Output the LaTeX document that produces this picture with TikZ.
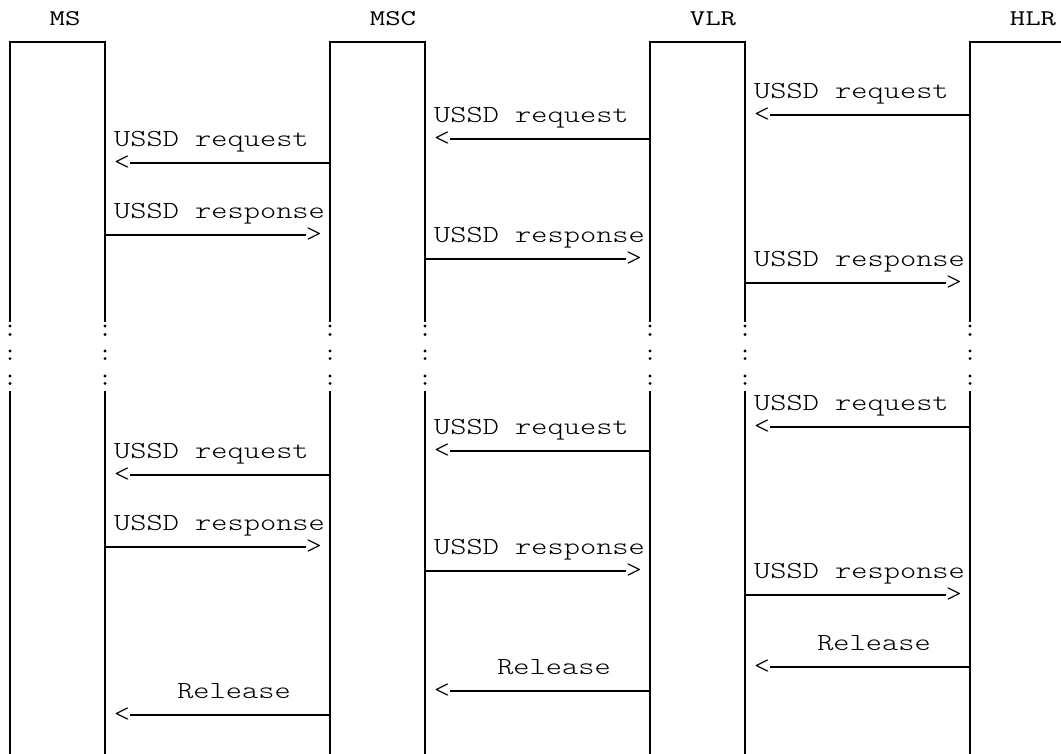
\documentclass[tikz,border=0pt]{standalone}
\usepackage{fontspec}
\newfontfamily\mono[FakeStretch=1.26]{lmmonolt10-regular.otf}
\newfontfamily\hmono[FakeStretch=1.33]{Latin Modern Mono}
\tikzset{
  lbl/.style={inner sep=0pt, anchor=base west, font=\mono\fontsize{24.5}{28}\selectfont},
  rlbl/.style={inner sep=0pt, anchor=base, font=\mono\fontsize{24.5}{28}\selectfont},
  head/.style={inner sep=0pt, anchor=base, font=\hmono\fontsize{22.5}{26}\selectfont},
  tip/.style={inner sep=0pt, font=\mono\fontsize{24.5}{28}\selectfont},
  msg/.style={line width=2.2pt},
  life/.style={line width=1.2pt},
  topline/.style={line width=2pt},
}
\newcommand\reqmsg[5]{%
  \coordinate (#1-s) at (#3,#4);
  \node[tip] (#1-t) at (#2+17,#4) {<};
  \node[lbl] (#1-l) at (#2+9,#4-16.3) {#5};
  \draw[msg] (#1-s) -- (#1-t.east);}
\newcommand\respmsg[5]{%
  \coordinate (#1-s) at (#2,#4);
  \node[tip] (#1-t) at (#3-16,#4) {>};
  \node[lbl] (#1-l) at (#2+9,#4-16.3) {#5};
  \draw[msg] (#1-s) -- (#1-t.west);}
\newcommand\relmsg[4]{%
  \coordinate (#1-s) at (#3,#4);
  \node[tip] (#1-t) at (#2+17,#4) {<};
  \node[rlbl] (#1-l) at (#2+129,#4-16.3) {Release};
  \draw[msg] (#1-s) -- (#1-t.east);}
\begin{document}
\begin{tikzpicture}[x=1pt,y=-1pt]
\useasboundingbox (0,0) rectangle (1061,754);
% headers
\node[head] (hms)  at (65,25.7)   {MS};
\node[head] (hmsc) at (393,25.7)  {MSC};
\node[head] (hvlr) at (713,25.7)  {VLR};
\node[head] (hhlr) at (1033,25.7) {HLR};
% box tops
\draw[topline] (9.4,42) -- (105.6,42);
\draw[topline] (329.4,42) -- (425.6,42);
\draw[topline] (649.4,42) -- (745.6,42);
\draw[topline] (969.4,42) -- (1061,42);
% lifelines with dotted gap
\foreach \x in {10,105,330,425,650,745,970} {
  \draw[life] (\x,42) -- (\x,322);
  \draw[life] (\x,391) -- (\x,754);
  \foreach \d in {326,334.5,351,358.6,376,383.4}
    \fill (\x,\d) circle (1.6pt);
}
% block 1
\reqmsg{a1}{745}{970}{115}{USSD request}
\reqmsg{a2}{425}{650}{139}{USSD request}
\reqmsg{a3}{105}{330}{163}{USSD request}
\respmsg{a4}{105}{330}{235}{USSD response}
\respmsg{a5}{425}{650}{259}{USSD response}
\respmsg{a6}{745}{970}{283}{USSD response}
% block 2
\reqmsg{b1}{745}{970}{427}{USSD request}
\reqmsg{b2}{425}{650}{451}{USSD request}
\reqmsg{b3}{105}{330}{475}{USSD request}
\respmsg{b4}{105}{330}{547}{USSD response}
\respmsg{b5}{425}{650}{571}{USSD response}
\respmsg{b6}{745}{970}{595}{USSD response}
% release
\relmsg{c1}{745}{970}{667}
\relmsg{c2}{425}{650}{691}
\relmsg{c3}{105}{330}{715}
\end{tikzpicture}
\end{document}
